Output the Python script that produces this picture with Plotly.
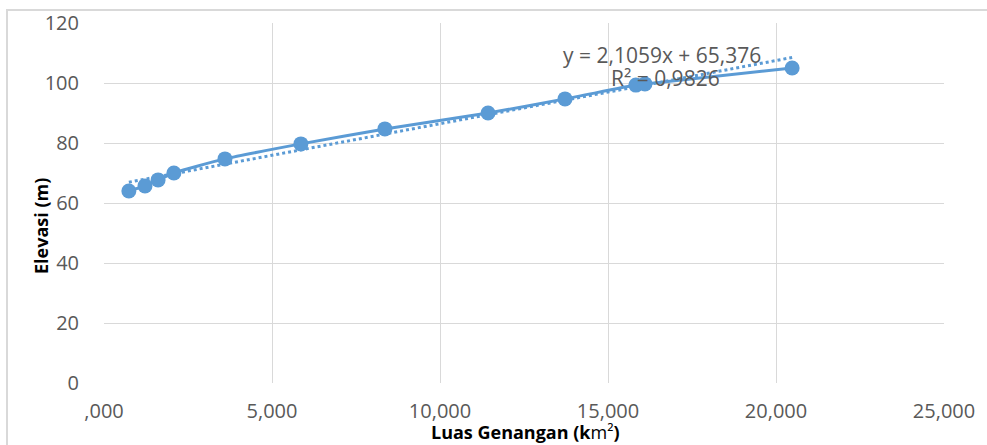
import plotly.graph_objects as go

# Data (x in thousands of km², as shown on the axis with comma decimals)
luas = [0.74, 1.22, 1.61, 2.08, 3.6, 5.86, 8.36, 11.43, 13.72, 15.83, 16.1, 20.48]
elevasi = [64, 65.7, 67.7, 70, 74.7, 79.7, 84.7, 90, 94.7, 99.3, 99.7, 105]

# Trendline coefficients (as displayed)
slope = 2.1059
intercept = 65.376
r2 = 0.9826

x_ticks = [0, 5, 10, 15, 20, 25]
x_tick_text = [",000", "5,000", "10,000", "15,000", "20,000", "25,000"]
y_ticks = [0, 20, 40, 60, 80, 100, 120]

blue = "#5B9BD5"
grid = "#d9d9d9"
tickc = "#595959"
font = "Open Sans"

trend_x = [min(luas), max(luas)]
trend_y = [slope * v + intercept for v in trend_x]

fig = go.Figure()
fig.add_trace(go.Scatter(x=trend_x, y=trend_y, mode="lines",
                         line=dict(color=blue, width=3, dash="dot"),
                         hoverinfo="skip", showlegend=False))
fig.add_trace(go.Scatter(x=luas, y=elevasi, mode="lines+markers",
                         line=dict(color=blue, width=3, shape="spline", smoothing=0.6),
                         marker=dict(color=blue, size=15),
                         showlegend=False))

fig.add_annotation(x=16.6, y=109.5, xref="x", yref="y",
                   text="y = 2,1059x + 65,376", showarrow=False,
                   font=dict(family=font, size=21, color=tickc), xanchor="center", yanchor="middle")
fig.add_annotation(x=16.7, y=101.8, xref="x", yref="y",
                   text="R² = 0,9826", showarrow=False,
                   font=dict(family=font, size=21, color=tickc), xanchor="center", yanchor="middle")

# Axis titles
fig.add_annotation(x=(41 - 104) / 840, y=(383 - 226) / 360, xref="paper", yref="paper",
                   text="<b>Elevasi (m)</b>", textangle=-90, showarrow=False,
                   font=dict(family=font, size=18, color="black"),
                   xanchor="center", yanchor="middle")
fig.add_annotation(x=(525 - 104) / 840, y=-(432 - 383) / 360, xref="paper", yref="paper",
                   text="<b>Luas Genangan (k</b>m²<b>)</b>", showarrow=False,
                   font=dict(family=font, size=18, color="black"),
                   xanchor="center", yanchor="middle")

# Outer chart border
fig.add_shape(type="rect", xref="paper", yref="paper",
              x0=(7 - 104) / 840, x1=(1000 - 104) / 840,
              y0=-(460 - 383) / 360, y1=(383 - 10) / 360,
              line=dict(color=grid, width=2), fillcolor="rgba(0,0,0,0)", layer="below")

fig.update_xaxes(range=[0, 25], tickvals=x_ticks, ticktext=x_tick_text,
                 showgrid=True, gridcolor=grid, gridwidth=1, zeroline=False,
                 showline=False, ticks="", ticklabelstandoff=14,
                 tickfont=dict(family=font, size=20, color=tickc), fixedrange=True)
fig.update_yaxes(range=[0, 120], tickvals=y_ticks,
                 showgrid=True, gridcolor=grid, gridwidth=1, zeroline=False,
                 showline=False, ticks="", ticklabelstandoff=24,
                 tickfont=dict(family=font, size=20, color=tickc), fixedrange=True)

fig.update_layout(width=987, height=445,
                  margin=dict(l=104, r=43, t=23, b=62, autoexpand=False),
                  plot_bgcolor="white", paper_bgcolor="white")

fig.write_html("out.html", config={"displayModeBar": False},
               post_script="document.body.style.margin='0';document.body.style.overflow='hidden';")
